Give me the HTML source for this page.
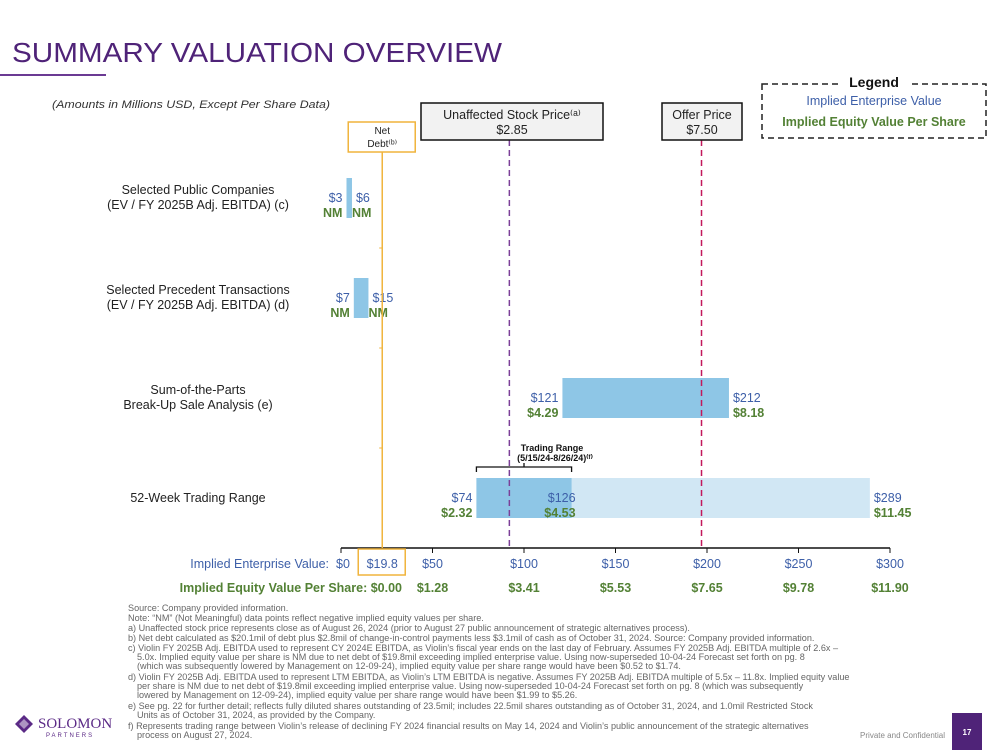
<!DOCTYPE html>
<html><head><meta charset="utf-8"><style>
body{margin:0;background:#fff;font-family:"Liberation Sans",sans-serif}
svg{display:block}
.fn{font-size:9.1px;fill:#666;font-family:"Liberation Sans Narrow","Liberation Sans",sans-serif}
</style></head><body>
<svg id="chart" width="999" height="750" viewBox="0 0 999 750" xmlns="http://www.w3.org/2000/svg">
<text x="12" y="62" font-size="28" fill="#4f2378" textLength="490" lengthAdjust="spacingAndGlyphs">SUMMARY VALUATION OVERVIEW</text>
<rect x="0" y="74" width="106" height="2" fill="#6b3a93"/>
<text x="52" y="108" font-size="11" font-style="italic" fill="#333" font-family="Liberation Sans,sans-serif" textLength="278" lengthAdjust="spacingAndGlyphs">(Amounts in Millions USD, Except Per Share Data)</text>
<g>
<rect x="762" y="84" width="224" height="54" fill="none" stroke="#222" stroke-width="1.5" stroke-dasharray="6,4"/>
<rect x="840" y="76" width="70" height="14" fill="#fff"/>
<text x="874" y="87" font-size="14" font-weight="bold" text-anchor="middle" fill="#111">Legend</text>
<text x="874" y="105" font-size="12.5" text-anchor="middle" fill="#3d5fa8">Implied Enterprise Value</text>
<text x="874" y="126" font-size="12.5" font-weight="bold" text-anchor="middle" fill="#538135">Implied Equity Value Per Share</text>
</g>
<g id="plot"></g>
<g>
<text class="fn" x="128" y="611">Source: Company provided information.</text>
<text class="fn" x="128" y="621">Note: “NM” (Not Meaningful) data points reflect negative implied equity values per share.</text>
<text class="fn" x="128" y="631">a) Unaffected stock price represents close as of August 26, 2024 (prior to August 27 public announcement of strategic alternatives process).</text>
<text class="fn" x="128" y="641">b) Net debt calculated as $20.1mil of debt plus $2.8mil of change-in-control payments less $3.1mil of cash as of October 31, 2024. Source: Company provided information.</text>
<text class="fn" x="128" y="651">c) Violin FY 2025B Adj. EBITDA used to represent CY 2024E EBITDA, as Violin’s fiscal year ends on the last day of February. Assumes FY 2025B Adj. EBITDA multiple of 2.6x –</text>
<text class="fn" x="137" y="660">5.0x. Implied equity value per share is NM due to net debt of $19.8mil exceeding implied enterprise value. Using now-superseded 10-04-24 Forecast set forth on pg. 8</text>
<text class="fn" x="137" y="669">(which was subsequently lowered by Management on 12-09-24), implied equity value per share range would have been $0.52 to $1.74.</text>
<text class="fn" x="128" y="680">d) Violin FY 2025B Adj. EBITDA used to represent LTM EBITDA, as Violin’s LTM EBITDA is negative. Assumes FY 2025B Adj. EBITDA multiple of 5.5x – 11.8x. Implied equity value</text>
<text class="fn" x="137" y="689">per share is NM due to net debt of $19.8mil exceeding implied enterprise value. Using now-superseded 10-04-24 Forecast set forth on pg. 8 (which was subsequently</text>
<text class="fn" x="137" y="698">lowered by Management on 12-09-24), implied equity value per share range would have been $1.99 to $5.26.</text>
<text class="fn" x="128" y="709">e) See pg. 22 for further detail; reflects fully diluted shares outstanding of 23.5mil; includes 22.5mil shares outstanding as of October 31, 2024, and 1.0mil Restricted Stock</text>
<text class="fn" x="137" y="718">Units as of October 31, 2024, as provided by the Company.</text>
<text class="fn" x="128" y="729">f) Represents trading range between Violin’s release of declining FY 2024 financial results on May 14, 2024 and Violin’s public announcement of the strategic alternatives</text>
<text class="fn" x="137" y="738">process on August 27, 2024.</text>
</g>
<g>
<polygon points="24,715 33,724 24,733 15,724" fill="#5b2a86"/>
<polygon points="24,719 29,724 24,729 19,724" fill="#fff" opacity="0.5"/>
<text x="38" y="728" font-size="15" font-family="Liberation Serif,serif" fill="#5b2a86">SOLOMON</text>
<text x="46" y="737" font-size="6" letter-spacing="2" fill="#5b2a86">PARTNERS</text>
</g>
<text x="945" y="738" font-size="8" fill="#888" text-anchor="end">Private and Confidential</text>
<rect x="952" y="713" width="30" height="37" fill="#4f2378"/>
<text x="967" y="735" font-size="8" font-weight="bold" fill="#fff" text-anchor="middle">17</text>
</svg>
<script>
const categories=["Selected Public Companies|(EV / FY 2025B Adj. EBITDA) (c)","Selected Precedent Transactions|(EV / FY 2025B Adj. EBITDA) (d)","Sum-of-the-Parts|Break-Up Sale Analysis (e)","52-Week Trading Range"];
const evLow=[3,7,121,74];
const evHigh=[6,15,212,289];
const eqLow=["NM","NM","$4.29","$2.32"];
const eqHigh=["NM","NM","$8.18","$11.45"];
const tradingRangeHigh=126;
const tradingRangeEq="$4.53";
const evTicks=[0,50,100,150,200,250,300];
const eqTickLabels=["$0.00","$1.28","$3.41","$5.53","$7.65","$9.78","$11.90"];
const netDebt=19.8;
const refLinesEV=[92,197];
const refLineLabels=["Unaffected Stock Price|$2.85","Offer Price|$7.50"];

const NS="http://www.w3.org/2000/svg";
const g=document.getElementById("plot");
const x=v=>341+v*(549/300);
const rowY=i=>198+i*100;
function el(t,a,txt){const e=document.createElementNS(NS,t);for(const k in a)e.setAttribute(k,a[k]);if(txt!==undefined)e.textContent=txt;g.appendChild(e);return e;}

categories.forEach((c,i)=>{
  const y=rowY(i);const parts=c.split("|");
  parts.forEach((p,j)=>{
    const t=el("text",{x:198,y:y+(parts.length===1?4:-4+j*15),"font-size":12.5,"text-anchor":"middle",fill:"#222"},p);
    
    
  });
  if(i===3){
    const b=el("rect",{x:x(evLow[i]),y:y-20,width:x(evHigh[i])-x(evLow[i]),height:40,fill:"#d1e7f4"});
    
    
    const b2=el("rect",{x:x(evLow[i]),y:y-20,width:x(tradingRangeHigh)-x(evLow[i]),height:40,fill:"#8ec6e6"});
    
    
    const hx=x(tradingRangeHigh);
    const l1=el("text",{x:hx+4,y:y+4,"font-size":12.5,"text-anchor":"end",fill:"#3d5fa8"},"$"+tradingRangeHigh);
    
    
    const l2=el("text",{x:hx+4,y:y+19,"font-size":12.5,"font-weight":"bold","text-anchor":"end",fill:"#538135"},tradingRangeEq);
    
    
    const br=el("path",{d:`M${x(evLow[i])} ${y-26} v-5 H${hx} v5 M${(x(evLow[i])+hx)/2} ${y-31} v-4`,fill:"none",stroke:"#111","stroke-width":1.3});
    
    
    const tl=el("text",{x:(x(evLow[i])+hx)/2+28,y:y-47,"font-size":9,"font-weight":"bold","text-anchor":"middle",fill:"#111"},"Trading Range");
    
    
    const tl2=el("text",{x:(x(evLow[i])+hx)/2+31,y:y-37,"font-size":9,"font-weight":"bold","text-anchor":"middle",fill:"#111"},"(5/15/24-8/26/24)⁽ᶠ⁾");
    
    
  } else {
    const b=el("rect",{x:x(evLow[i]),y:y-20,width:x(evHigh[i])-x(evLow[i]),height:40,fill:"#8ec6e6"});
    
    
  }
  const lx=x(evLow[i])-4, hx2=x(evHigh[i])+4;
  const a=el("text",{x:lx,y:y+4,"font-size":12.5,"text-anchor":"end",fill:"#3d5fa8"},"$"+evLow[i]);
  
  
  const b=el("text",{x:lx,y:y+19,"font-size":12.5,"font-weight":"bold","text-anchor":"end",fill:"#538135"},eqLow[i]);
  
  
  const cc=el("text",{x:hx2,y:y+4,"font-size":12.5,fill:"#3d5fa8"},"$"+evHigh[i]);
  
  
  const d=el("text",{x:hx2-(i<2?4:0),y:y+19,"font-size":12.5,"font-weight":"bold",fill:"#538135"},eqHigh[i]);
  
  
});

// axis
const ax=el("line",{x1:x(0),x2:x(300),y1:548,y2:548,stroke:"#111","stroke-width":1.5});


const at=el("text",{x:329,y:568,"font-size":12.5,"text-anchor":"end",fill:"#3d5fa8"},"Implied Enterprise Value:");


const et=el("text",{x:402,y:592,"font-size":12.5,"font-weight":"bold","text-anchor":"end",fill:"#538135"},"Implied Equity Value Per Share: "+eqTickLabels[0]);


evTicks.forEach((v,i)=>{
  const t=el("line",{x1:x(v),x2:x(v),y1:548,y2:553,stroke:"#111"});
  
  
  const l=el("text",{x:x(v)+(i===0?2:0),y:568,"font-size":12.5,"text-anchor":"middle",fill:"#3d5fa8"},"$"+v);
  
  
  if(i>0){
    const e=el("text",{x:x(v),y:592,"font-size":12.5,"font-weight":"bold","text-anchor":"middle",fill:"#538135"},eqTickLabels[i]);
    
    
  }
});
// net debt line
const nx=x(netDebt)+5;
const nl=el("line",{x1:nx,x2:nx,y1:152,y2:548,stroke:"#f0b43c","stroke-width":1.5});


[248,348,448].forEach(yy=>{const t=el("line",{x1:nx-3,x2:nx,y1:yy,y2:yy,stroke:"#f0b43c"});

});
const nb=el("rect",{x:nx-34,y:122,width:67,height:30,fill:"#fff",stroke:"#f0b43c","stroke-width":1.5});


const n1=el("text",{x:nx,y:134,"font-size":10,"text-anchor":"middle",fill:"#222"},"Net");


const n2=el("text",{x:nx,y:147,"font-size":10,"text-anchor":"middle",fill:"#222"},"Debt⁽ᵇ⁾");


const nvb=el("rect",{x:nx-24,y:549,width:47,height:26,fill:"#fff",stroke:"#f0b43c","stroke-width":1.5});


const nv=el("text",{x:nx,y:568,"font-size":12.5,"text-anchor":"middle",fill:"#3d5fa8"},"$"+netDebt);


// reference lines
const colors=["#7b3f98","#c2185b"];
const boxes=[[421,103,182,37],[662,103,80,37]];
refLinesEV.forEach((v,i)=>{
  const l=el("line",{x1:x(v),x2:x(v),y1:140,y2:548,stroke:colors[i],"stroke-width":1.5,"stroke-dasharray":"6,4"});
  
  
  const [bx,by,bw,bh]=boxes[i];
  const r=el("rect",{x:bx,y:by,width:bw,height:bh,fill:"#f2f2f2",stroke:"#111","stroke-width":1.5});
  
  
  const p=refLineLabels[i].split("|");
  const t1=el("text",{x:bx+bw/2,y:by+16,"font-size":12.5,"text-anchor":"middle",fill:"#222"},p[0]+(i===0?"⁽ᵃ⁾":""));
  
  
  const t2=el("text",{x:bx+bw/2,y:by+31,"font-size":12.5,"text-anchor":"middle",fill:"#222"},p[1]);
  
  
});
</script>
</body></html>
